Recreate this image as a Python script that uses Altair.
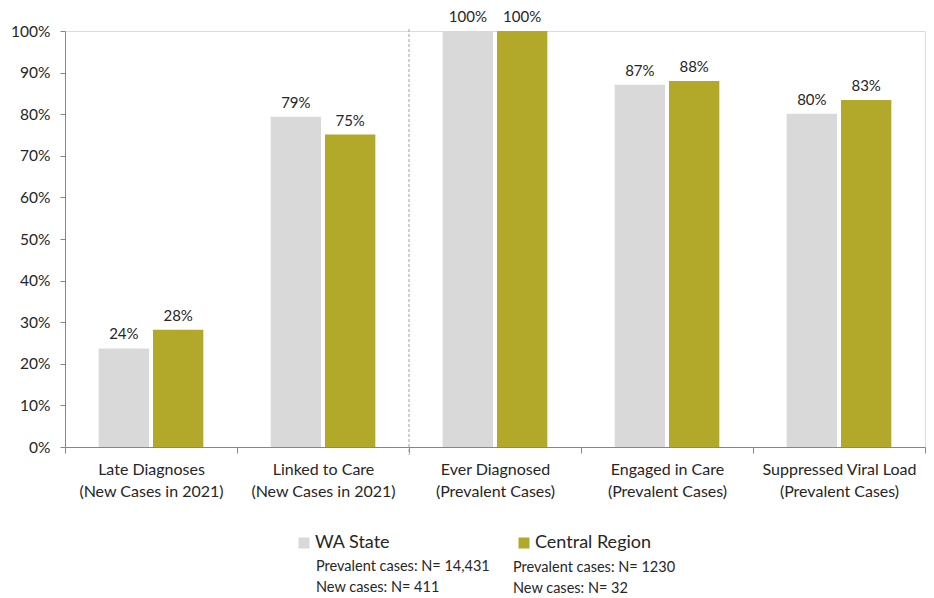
import altair as alt
import pandas as pd

categories = [
    "Late Diagnoses\n(New Cases in 2021)",
    "Linked to Care\n(New Cases in 2021)",
    "Ever Diagnosed\n(Prevalent Cases)",
    "Engaged in Care\n(Prevalent Cases)",
    "Suppressed Viral Load\n(Prevalent Cases)",
]
series = ["WA State", "Central Region"]
wa_values = [0.237, 0.794, 1.0, 0.871, 0.801]
central_values = [0.282, 0.751, 1.0, 0.880, 0.834]
colors = ["#D9D9D9", "#B2A82A"]
wa_notes = ["Prevalent cases: N= 14,431", "New cases: N= 411"]
central_notes = ["Prevalent cases: N= 1230", "New cases: N= 32"]
divider_before = ["Ever Diagnosed\n(Prevalent Cases)"]
y_ticks = [i / 10 for i in range(11)]

W, H = 860, 416
FONT = "Lato"
TXT = "#262626"
AX = "#868686"

rows = []
for c, a, b in zip(categories, wa_values, central_values):
    rows.append({"category": c, "series": series[0], "value": a})
    rows.append({"category": c, "series": series[1], "value": b})
df = pd.DataFrame(rows)
div_df = pd.DataFrame({"category": divider_before})

xscale = alt.Scale(domain=categories, paddingInner=0, paddingOuter=0)
xoff = alt.XOffset("series:N", sort=series,
                   scale=alt.Scale(domain=series, paddingInner=0.073, paddingOuter=0.62))
yenc = alt.Y("value:Q", scale=alt.Scale(domain=[0, 1]),
             axis=alt.Axis(title=None, values=y_ticks, format=".0%", grid=False,
                           tickSize=5, labelPadding=10, labelFontSize=15.5, labelFont=FONT,
                           labelColor=TXT, domainColor=AX, tickColor=AX))

bars = alt.Chart(df).mark_bar().encode(
    x=alt.X("category:N", sort=categories, scale=xscale,
            axis=alt.Axis(title=None, labelAngle=0, tickBand="extent", tickSize=6,
                          labelExpr="split(datum.label, '\\n')", labelFontSize=16,
                          labelLineHeight=22, labelPadding=8, labelFont=FONT,
                          labelColor=TXT, domainColor=AX, tickColor=AX, labelLimit=300)),
    xOffset=xoff,
    y=yenc,
    color=alt.Color("series:N", sort=series, scale=alt.Scale(domain=series, range=colors),
                    legend=alt.Legend(title=None, orient="none", legendX=230, legendY=503,
                                      direction="horizontal", symbolType="square",
                                      symbolSize=121, symbolStrokeWidth=0, symbolOpacity=1,
                                      labelFontSize=18, labelFont=FONT, labelColor=TXT,
                                      labelOffset=2, columnPadding=124)),
)

labels = alt.Chart(df).mark_text(baseline="bottom", dy=-6, fontSize=15, font=FONT, color=TXT).encode(
    x=alt.X("category:N", sort=categories, scale=xscale),
    xOffset=xoff,
    y=alt.Y("value:Q"),
    text=alt.Text("value:Q", format=".0%"),
)

divider = alt.Chart(div_df).mark_rule(color="#A0A0A0", strokeDash=[3, 2], strokeWidth=1).encode(
    x=alt.X("category:N", sort=categories, scale=xscale, bandPosition=0),
    y=alt.value(-2),
    y2=alt.value(H + 8),
)

note_wa = alt.Chart(pd.DataFrame({"k": [0]})).mark_text(
    align="left", baseline="top", fontSize=14.5, lineHeight=21, font=FONT, color=TXT
).encode(x=alt.value(251), y=alt.value(529), text=alt.value(wa_notes))

note_c = alt.Chart(pd.DataFrame({"k": [0]})).mark_text(
    align="left", baseline="top", fontSize=14.5, lineHeight=21, font=FONT, color=TXT
).encode(x=alt.value(448), y=alt.value(530), text=alt.value(central_notes))

chart = alt.layer(bars, labels, divider, note_wa, note_c).properties(
    width=W, height=H, padding={"left": 2, "top": 2, "right": 0, "bottom": 0}
).configure_view(stroke=None).configure(background="white")

chart.save("out.html", embed_options={"renderer": "svg", "actions": False})
